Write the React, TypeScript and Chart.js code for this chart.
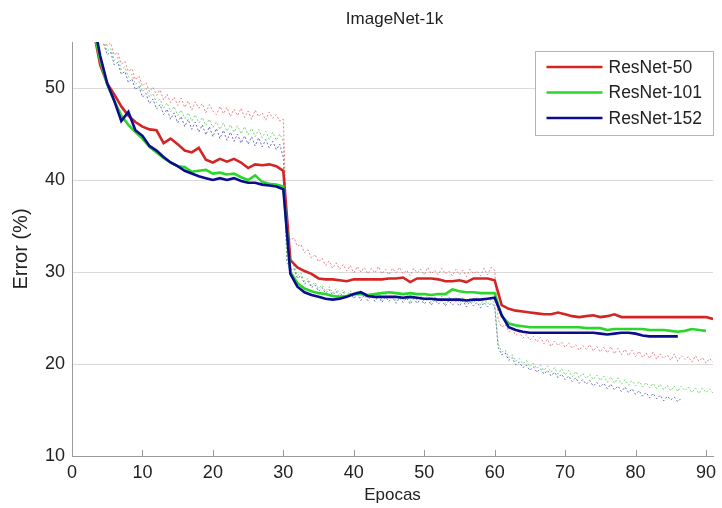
import React, { useEffect, useRef } from "react";
import { Chart, registerables } from "chart.js";

Chart.register(...registerables);

// ---------- data ----------
const chartTitle = "ImageNet-1k";
const xAxisTitle = "Epocas";
const yAxisTitle = "Error (%)";
const seriesNames = ["ResNet-50", "ResNet-101", "ResNet-152"];
const xTickValues = [0, 10, 20, 30, 40, 50, 60, 70, 80, 90];
const yTickValues = [10, 20, 30, 40, 50];

// validation (solid) curves, one value per epoch starting at epoch 3
const valStartEpoch = 3;
const valRes50 = [
  56.5, 52.5, 50.5, 49.3, 48.0, 47.0, 46.3, 45.8, 45.5, 45.4, 44.0, 44.5, 43.9, 43.2, 43.0, 43.5, 42.2, 41.9, 42.3, 42.0, 42.3, 41.9, 41.3, 41.7, 41.6, 41.7, 41.5, 41.0,
  31.3, 30.5, 30.1, 29.8, 29.3, 29.2, 29.2, 29.1, 29.0, 29.2, 29.2, 29.2, 29.2, 29.2, 29.3, 29.3, 29.4, 28.9, 29.3, 29.3, 29.3, 29.2, 29.0, 29.0, 29.1, 28.9, 29.3, 29.3, 29.3, 29.1,
  26.4, 26.0, 25.8, 25.7, 25.6, 25.5, 25.4, 25.4, 25.6, 25.4, 25.2, 25.1, 25.2, 25.3, 25.1, 25.2, 25.4, 25.1, 25.1, 25.1, 25.1, 25.1, 25.1, 25.1, 25.1, 25.1, 25.1, 25.1, 25.1, 25.1, 24.9,
];
const valRes101 = [
  56.5, 53.0, 50.4, 48.6, 47.0, 46.0, 45.2, 44.5, 43.6, 43.0, 42.4, 41.9, 41.5, 41.4, 40.9, 41.0, 41.1, 40.7, 40.8, 40.6, 40.7, 40.3, 40.0, 40.5, 39.8, 39.6, 39.5, 39.3,
  30.0, 28.8, 28.2, 27.9, 27.7, 27.6, 27.4, 27.3, 27.4, 27.6, 27.6, 27.5, 27.6, 27.7, 27.8, 27.7, 27.6, 27.7, 27.6, 27.6, 27.5, 27.6, 27.6, 28.1, 27.9, 27.8, 27.8, 27.7, 27.7, 27.7,
  25.2, 24.4, 24.2, 24.1, 24.0, 24.0, 24.0, 24.0, 24.0, 24.0, 24.0, 24.0, 23.9, 23.9, 23.9, 23.7, 23.8, 23.8, 23.8, 23.8, 23.8, 23.7, 23.7, 23.7, 23.6, 23.5, 23.6, 23.8, 23.7, 23.6,
];
const valRes152 = [
  57.5, 53.5, 50.5, 48.6, 46.4, 47.4, 45.4, 44.8, 43.7, 43.2, 42.5, 41.9, 41.5, 41.0, 40.7, 40.4, 40.2, 40.0, 40.2, 40.0, 40.2, 39.9, 39.7, 39.7, 39.5, 39.4, 39.3, 39.0,
  29.8, 28.4, 27.8, 27.5, 27.3, 27.1, 27.0, 27.1, 27.3, 27.6, 27.8, 27.4, 27.3, 27.3, 27.3, 27.3, 27.2, 27.3, 27.2, 27.1, 27.1, 27.0, 27.0, 27.0, 27.0, 26.9, 27.0, 27.0, 27.1, 27.2,
  25.3, 24.0, 23.7, 23.5, 23.4, 23.4, 23.4, 23.4, 23.4, 23.4, 23.4, 23.4, 23.4, 23.4, 23.3, 23.2, 23.3, 23.4, 23.4, 23.3, 23.1, 23.0, 23.0, 23.0, 23.0, 23.0,
];

// training (dashed) curves, one value every half epoch starting at epoch 4.5
const trainStartEpoch = 4.5;
const trainStep = 0.5;
const trainRes50 = [
  55.6, 54.6, 54.9, 53.6, 53.9, 52.6, 52.9, 51.8, 52.1, 50.9, 51.3, 50.2, 50.6, 49.6, 50.1, 49.2, 49.8, 48.7, 49.3, 48.4, 49.0, 48.1, 48.9, 47.9, 48.6, 47.6,
  48.5, 47.8, 48.3, 47.3, 48.2, 47.5, 47.1, 48.0, 47.2, 47.9, 46.9, 47.7, 47.0, 47.8, 46.8, 47.5, 46.6, 47.6, 46.9, 47.3, 46.5, 47.4, 46.7, 47.1, 46.4, 46.6,
  34.2, 33.5, 33.7, 32.8, 33.0, 32.1, 32.4, 31.5, 31.9, 31.1, 31.5, 30.7, 31.2, 30.4, 31.0, 30.3, 30.8, 30.1, 30.7, 29.9, 30.6, 30.0, 30.5, 29.8, 30.4, 29.9,
  30.6, 29.8, 30.3, 29.7, 30.4, 29.9, 30.5, 29.8, 30.2, 29.6, 30.4, 29.9, 30.3, 29.7, 30.5, 29.8, 30.2, 29.7, 30.4, 29.8, 30.1, 29.6, 30.3, 29.7, 30.2, 29.5,
  30.3, 29.8, 30.1, 29.6, 30.4, 29.7, 30.5, 30.2,
  24.8, 24.0, 24.3, 23.5, 23.8, 23.1, 23.5, 22.8, 23.2, 22.6, 23.0, 22.4, 22.9, 22.2, 22.7, 21.9, 22.5, 22.0, 22.4, 21.8, 22.3, 21.7, 22.1, 21.5, 22.0, 21.6,
  22.1, 21.4, 21.9, 21.3, 21.8, 21.2, 21.9, 21.1, 21.7, 21.0, 21.6, 20.9, 21.5, 20.8, 21.4, 20.7, 21.2, 20.6, 21.3, 20.5, 21.1, 20.6, 21.0, 20.4, 21.1, 20.3,
  20.9, 20.5, 20.8, 20.2, 20.9, 20.3, 20.7, 20.1, 20.6, 20.2,
];
const trainRes101 = [
  55.2, 54.0, 54.3, 53.0, 53.3, 52.0, 52.3, 51.2, 51.5, 50.4, 50.7, 49.6, 50.0, 49.0, 49.4, 48.4, 48.8, 47.8, 48.4, 47.4, 48.0, 47.0, 47.6, 46.7, 47.3, 46.4,
  47.1, 46.2, 46.8, 45.9, 46.6, 45.7, 46.3, 45.5, 46.2, 45.3, 46.0, 45.2, 45.9, 45.0, 45.8, 44.9, 45.6, 44.7, 45.5, 44.6, 45.3, 44.4, 45.2, 44.3, 45.0, 44.2,
  31.6, 30.5, 30.7, 29.6, 29.9, 29.0, 29.3, 28.5, 28.9, 28.2, 28.6, 27.9, 28.4, 27.7, 28.2, 27.6, 28.1, 27.4, 28.0, 27.3, 27.9, 27.2, 27.8, 27.1, 27.7, 27.2,
  27.8, 27.0, 27.6, 27.1, 27.7, 26.9, 27.5, 27.0, 27.6, 26.8, 27.5, 26.9, 27.4, 26.8, 27.5, 26.7, 27.3, 26.8, 27.4, 26.6, 27.3, 26.7, 27.2, 26.6, 27.3, 26.5,
  27.1, 26.6, 27.2, 26.4, 27.1, 26.5, 27.0, 26.6,
  22.2, 21.3, 21.5, 20.7, 21.0, 20.3, 20.6, 20.0, 20.4, 19.7, 20.1, 19.5, 19.9, 19.3, 19.8, 19.1, 19.6, 18.9, 19.5, 18.8, 19.3, 18.6, 19.2, 18.5, 19.0, 18.4,
  18.9, 18.3, 18.8, 18.2, 18.7, 18.0, 18.6, 17.9, 18.5, 17.8, 18.3, 17.7, 18.2, 17.6, 18.1, 17.5, 18.0, 17.4, 17.9, 17.3, 17.8, 17.2, 17.7, 17.1, 17.6, 17.0,
  17.6, 17.1, 17.5, 16.9, 17.4, 16.8, 17.4, 16.9, 17.3, 16.8,
];
const trainRes152 = [
  54.8, 53.6, 53.9, 52.5, 52.8, 51.5, 51.8, 50.6, 51.0, 49.8, 50.2, 49.0, 49.4, 48.3, 48.8, 47.7, 48.2, 47.1, 47.7, 46.6, 47.3, 46.2, 46.9, 45.8, 46.6, 45.5,
  46.3, 45.2, 46.0, 44.9, 45.8, 44.7, 45.6, 44.5, 45.4, 44.3, 45.2, 44.2, 45.0, 44.0, 44.8, 43.9, 44.7, 43.7, 44.6, 43.6, 44.4, 43.5, 44.2, 43.3, 43.9, 42.4,
  31.2, 30.2, 30.4, 29.3, 29.6, 28.7, 29.0, 28.3, 28.6, 27.9, 28.3, 27.7, 28.1, 27.5, 27.9, 27.3, 27.8, 27.2, 27.7, 27.1, 27.6, 26.9, 27.5, 26.9, 27.4, 26.8,
  27.4, 26.7, 27.3, 26.8, 27.3, 26.6, 27.2, 26.7, 27.2, 26.5, 27.1, 26.6, 27.1, 26.5, 27.0, 26.4, 27.0, 26.5, 26.9, 26.3, 26.9, 26.4, 26.8, 26.3, 26.9, 26.2,
  26.8, 26.3, 26.7, 26.1, 26.7, 26.2, 26.6, 26.3,
  21.8, 21.0, 21.2, 20.4, 20.7, 19.9, 20.2, 19.6, 19.9, 19.3, 19.7, 19.1, 19.5, 18.9, 19.3, 18.7, 19.1, 18.5, 18.9, 18.3, 18.7, 18.1, 18.5, 17.9, 18.3, 17.8,
  18.2, 17.6, 18.0, 17.5, 17.9, 17.3, 17.8, 17.2, 17.6, 17.0, 17.5, 16.9, 17.3, 16.7, 17.1, 16.5, 16.9, 16.3, 16.8, 16.2, 16.6, 16.0, 16.5, 16.1, 16.4, 15.9,
  16.3,
];

// ---------- styles ----------
const solidColors = ["#d42424", "#2ad62a", "#0c0c8e"];
const dashColors = ["rgba(226,110,120,0.85)", "rgba(100,205,100,0.85)", "rgba(80,90,170,0.85)"];
const FONT = '"Liberation Sans", Arial, sans-serif';

const toPoints = (vals: number[], start: number, step: number) =>
  vals.map((v, i) => ({ x: start + i * step, y: v }));

const overlayPlugin = {
  id: "overlay",
  afterDraw(chart: any) {
    const { ctx, chartArea, scales } = chart;
    ctx.save();
    // title
    ctx.fillStyle = "#222";
    ctx.font = `17px ${FONT}`;
    ctx.textAlign = "center";
    ctx.textBaseline = "middle";
    ctx.fillText(chartTitle, (chartArea.left + chartArea.right) / 2 + 2, 19);
    // inward x ticks
    ctx.strokeStyle = "#9a9a9a";
    ctx.lineWidth = 1;
    scales.x.ticks.forEach((t: any) => {
      const px = Math.round(scales.x.getPixelForValue(t.value)) + 0.5;
      ctx.beginPath();
      ctx.moveTo(px, chartArea.bottom);
      ctx.lineTo(px, chartArea.bottom - 6);
      ctx.stroke();
    });
    // legend box
    const boxW = 178;
    const boxH = 84;
    const bx = Math.round(chartArea.right - boxW) + 0.5;
    const by = Math.round(chartArea.top + 9) + 0.5;
    ctx.fillStyle = "#ffffff";
    ctx.fillRect(bx, by, boxW, boxH);
    ctx.strokeStyle = "#b4b4b4";
    ctx.lineWidth = 1;
    ctx.strokeRect(bx, by, boxW, boxH);
    ctx.font = `17.5px ${FONT}`;
    ctx.textAlign = "left";
    ctx.textBaseline = "middle";
    seriesNames.forEach((name, i) => {
      const yy = by + 15.5 + i * 25.5;
      ctx.strokeStyle = solidColors[i];
      ctx.lineWidth = 2.5;
      ctx.beginPath();
      ctx.moveTo(bx + 11, yy);
      ctx.lineTo(bx + 67, yy);
      ctx.stroke();
      ctx.fillStyle = "#222";
      ctx.fillText(name, bx + 73, yy + 1);
    });
    ctx.restore();
  },
};

export default function App() {
  const canvasRef = useRef<HTMLCanvasElement | null>(null);

  useEffect(() => {
    document.body.style.margin = "0";
    const canvas = canvasRef.current;
    if (!canvas) return;

    const valSets = [valRes50, valRes101, valRes152];
    const trainSets = [trainRes50, trainRes101, trainRes152];

    const datasets: any[] = [];
    trainSets.forEach((vals, i) => {
      datasets.push({
        label: seriesNames[i] + " train",
        data: toPoints(vals, trainStartEpoch, trainStep),
        borderColor: dashColors[i],
        borderWidth: 1,
        borderDash: [2, 2],
        pointRadius: 0,
        fill: false,
        tension: 0,
        clip: 0,
        order: 5,
      });
    });
    valSets.forEach((vals, i) => {
      datasets.push({
        label: seriesNames[i],
        data: toPoints(vals, valStartEpoch, 1),
        borderColor: solidColors[i],
        borderWidth: 2.6,
        pointRadius: 0,
        fill: false,
        tension: 0,
        clip: 0,
        order: 3 - i,
      });
    });

    const chart = new Chart(canvas, {
      type: "line",
      data: { datasets },
      options: {
        responsive: false,
        animation: false,
        layout: { padding: { top: 42, right: 1, left: 0, bottom: 0 } },
        plugins: {
          legend: { display: false },
          title: { display: false },
          tooltip: { enabled: false },
        },
        scales: {
          x: {
            type: "linear",
            min: 0,
            max: 91,
            afterFit: (s: any) => {
              s.height = 52;
            },
            afterBuildTicks: (s: any) => {
              s.ticks = xTickValues.map((v) => ({ value: v }));
            },
            ticks: {
              font: { family: FONT, size: 18 },
              color: "#222",
              padding: 6,
              maxRotation: 0,
              autoSkip: false,
            },
            grid: { display: true, drawOnChartArea: false, drawTicks: false },
            border: { display: true, color: "#9a9a9a" },
            title: {
              display: true,
              text: xAxisTitle,
              font: { family: FONT, size: 17 },
              color: "#222",
              padding: { top: 0, bottom: 2 },
            },
          },
          y: {
            type: "linear",
            min: 10,
            max: 55,
            afterFit: (s: any) => {
              s.width = 72;
            },
            afterBuildTicks: (s: any) => {
              s.ticks = yTickValues.map((v) => ({ value: v }));
            },
            ticks: {
              font: { family: FONT, size: 18 },
              color: "#222",
              padding: 7,
              autoSkip: false,
            },
            grid: { color: "#dadada", drawTicks: false },
            border: { display: true, color: "#9a9a9a" },
            title: {
              display: true,
              text: yAxisTitle,
              font: { family: FONT, size: 20 },
              color: "#222",
              padding: { top: 9, bottom: 0 },
            },
          },
        },
      },
      plugins: [overlayPlugin],
    } as any);

    return () => {
      chart.destroy();
    };
  }, []);

  return (
    <div style={{ width: 722, height: 508, background: "#fff" }}>
      <canvas ref={canvasRef} width={722} height={508} style={{ display: "block" }} />
    </div>
  );
}
